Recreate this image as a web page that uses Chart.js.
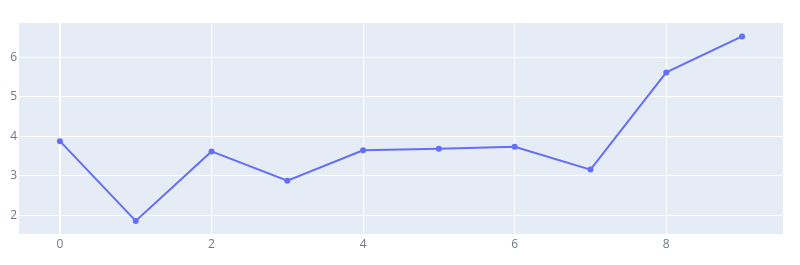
<!DOCTYPE html>
<html>
<head>
<meta charset="utf-8">
<script src="https://cdn.jsdelivr.net/npm/chart.js@4/dist/chart.umd.min.js"></script>
<style>
html,body{margin:0;padding:0;background:#fff;}
#wrap{width:800px;height:265px;position:relative;}
</style>
</head>
<body>
<div id="wrap"><canvas id="c" width="800" height="265"></canvas></div>
<script>
const xValues = [0,1,2,3,4,5,6,7,8,9];
const yValues = [3.88,1.86,3.62,2.88,3.65,3.69,3.74,3.16,5.62,6.53];
const xTicks = [0,2,4,6,8];
const yTicks = [2,3,4,5,6];

const bgPlugin = {
  id:'bg',
  beforeDraw(chart){
    const {ctx, chartArea:a} = chart;
    ctx.save();
    ctx.fillStyle = '#E5ECF6';
    ctx.fillRect(a.left, a.top, a.right-a.left, a.bottom-a.top);
    ctx.restore();
  }
};

new Chart(document.getElementById('c'), {
  type:'line',
  data:{
    datasets:[{
      data: xValues.map((x,i)=>({x:x,y:yValues[i]})),
      borderColor:'#636efa',
      backgroundColor:'#636efa',
      borderWidth:2,
      pointRadius:3,
      pointHoverRadius:3,
      pointBorderWidth:0,
      tension:0
    }]
  },
  options:{
    responsive:false,
    animation:false,
    events:[],
    layout:{padding:{left:0,top:23,right:17,bottom:0}},
    plugins:{legend:{display:false},tooltip:{enabled:false}},
    scales:{
      x:{
        type:'linear',
        min:-0.54, max:9.54,
        border:{display:false},
        afterBuildTicks:s=>{s.ticks = xTicks.map(v=>({value:v}));},
        afterFit:s=>{s.height = 31;},
        grid:{color:'#ffffff', lineWidth:ctx=> (ctx.tick && ctx.tick.value===0) ? 2 : 1, drawTicks:false},
        ticks:{color:'#6f7788', font:{family:'"Open Sans", sans-serif', size:12}, padding:3, maxRotation:0}
      },
      y:{
        min:1.53, max:6.87,
        border:{display:false},
        afterBuildTicks:s=>{s.ticks = yTicks.map(v=>({value:v}));},
        afterFit:s=>{s.width = 19;},
        grid:{color:'#ffffff', lineWidth:1, drawTicks:false},
        ticks:{color:'#6f7788', font:{family:'"Open Sans", sans-serif', size:12}, padding:2}
      }
    }
  },
  plugins:[bgPlugin]
});
</script>
</body>
</html>
